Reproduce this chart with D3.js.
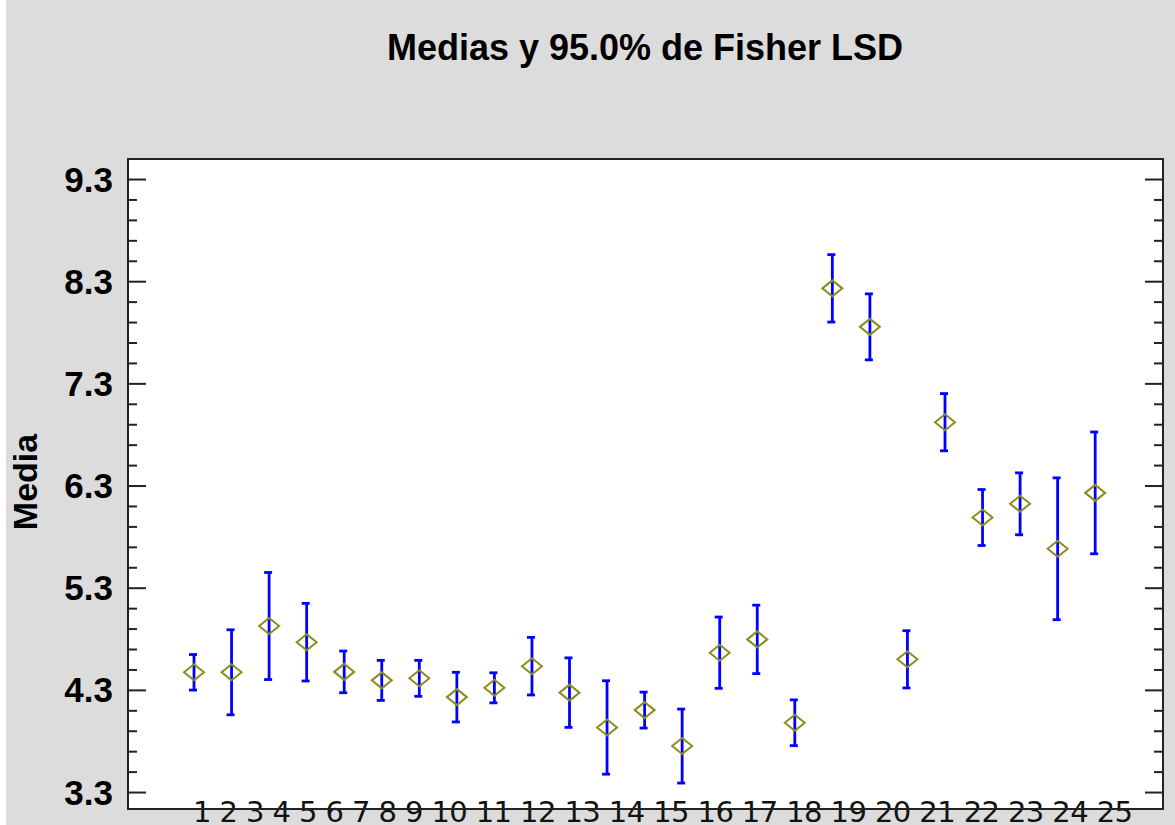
<!DOCTYPE html>
<html>
<head>
<meta charset="utf-8">
<script src="https://cdn.jsdelivr.net/npm/d3@7"></script>
<style>
  html, body { margin: 0; padding: 0; background: #ffffff; }
  svg { display: block; }
</style>
</head>
<body>
<svg id="chart" width="1175" height="825"></svg>
<script>
// Group labels along the x axis
const categories = ["1","2","3","4","5","6","7","8","9","10","11","12","13","14","15","16","17","18","19","20","21","22","23","24","25"];
// Group means
const means = [4.472, 4.472, 4.925, 4.767, 4.476, 4.393, 4.413, 4.229, 4.320, 4.532,
               4.273, 3.932, 4.102, 3.750, 4.664, 4.794, 3.978, 8.230, 7.853, 4.599,
               6.920, 5.987, 6.121, 5.681, 6.228];
// Half-width of each 95% Fisher LSD interval
const halfWidths = [0.174, 0.416, 0.524, 0.380, 0.204, 0.196, 0.176, 0.243, 0.147, 0.282,
                    0.340, 0.457, 0.176, 0.362, 0.349, 0.335, 0.224, 0.330, 0.323, 0.280,
                    0.280, 0.274, 0.303, 0.694, 0.596];
// Y axis tick labels
const yTicks = [3.3, 4.3, 5.3, 6.3, 7.3, 8.3, 9.3];

const titleText = "Medias y 95.0% de Fisher LSD";
const yTitle = "Media";

const W = 1175, H = 825;
const plot = { left: 128, right: 1163, top: 159, bottom: 809 };

const svg = d3.select("#chart");

// Grey frame background with a thin white strip on the left
svg.append("rect").attr("x", 6).attr("y", 0).attr("width", W - 6).attr("height", H).attr("fill", "#dcdcdc");
svg.append("rect")
  .attr("x", plot.left).attr("y", plot.top)
  .attr("width", plot.right - plot.left).attr("height", plot.bottom - plot.top)
  .attr("fill", "#ffffff");

// Scales
const x = d3.scaleLinear().domain([-0.758, 26.806]).range([plot.left, plot.right]);
const y = d3.scaleLinear().domain([3.134, 9.496]).range([plot.bottom, plot.top]);

// Minor ticks every 0.2, major every 1.0
const minorTicks = d3.range(0, 32).map(i => +(3.3 + i * 0.2).toFixed(1)).filter(v => v <= 9.45 && !yTicks.includes(v));

const leftAxis = d3.axisRight(y).tickValues(yTicks).tickSize(18).tickFormat("");
const leftMinor = d3.axisRight(y).tickValues(minorTicks).tickSize(9).tickFormat("");
const rightAxis = d3.axisLeft(y).tickValues(yTicks).tickSize(18).tickFormat("");
const rightMinor = d3.axisLeft(y).tickValues(minorTicks).tickSize(9).tickFormat("");

function styleAxis(g) {
  g.select(".domain").remove();
  g.selectAll(".tick line").attr("stroke", "#222").attr("stroke-width", 2);
}
svg.append("g").attr("transform", `translate(${plot.left},0)`).call(leftAxis).call(styleAxis);
svg.append("g").attr("transform", `translate(${plot.left},0)`).call(leftMinor).call(styleAxis);
svg.append("g").attr("transform", `translate(${plot.right},0)`).call(rightAxis).call(styleAxis);
svg.append("g").attr("transform", `translate(${plot.right},0)`).call(rightMinor).call(styleAxis);

// Y tick labels
svg.append("g").selectAll("text")
  .data(yTicks)
  .join("text")
  .attr("x", 113)
  .attr("y", d => y(d))
  .attr("dy", "0.36em")
  .attr("text-anchor", "end")
  .attr("font-family", "Liberation Sans, Arial, sans-serif")
  .attr("font-weight", "bold")
  .attr("font-size", 35)
  .attr("fill", "#000")
  .text(d => d.toFixed(1));

// Frame lines
svg.append("rect")
  .attr("x", plot.left).attr("y", plot.top)
  .attr("width", plot.right - plot.left).attr("height", plot.bottom - plot.top)
  .attr("fill", "none").attr("stroke", "#222").attr("stroke-width", 2);

// Category labels run together along the bottom edge
svg.append("text")
  .attr("x", 193)
  .attr("y", 822)
  .attr("font-family", "DejaVu Sans, Verdana, sans-serif")
  .attr("font-size", 29)
  .attr("fill", "#111")
  .attr("textLength", 940)
  .attr("lengthAdjust", "spacing")
  .text(categories.join(" "));
// Bottom axis line drawn over the labels
svg.append("line")
  .attr("x1", plot.left).attr("x2", plot.right)
  .attr("y1", plot.bottom).attr("y2", plot.bottom)
  .attr("stroke", "#222").attr("stroke-width", 2);

// LSD interval bars
const groups = categories.map((c, i) => ({ c, i: i + 1, m: means[i], h: halfWidths[i] }));
const bars = svg.append("g").attr("stroke", "#0000ff").attr("stroke-width", 2.8).attr("fill", "none");
bars.selectAll("line.v").data(groups).join("line").attr("class", "v")
  .attr("x1", d => x(d.i)).attr("x2", d => x(d.i))
  .attr("y1", d => y(d.m + d.h)).attr("y2", d => y(d.m - d.h));
bars.selectAll("line.t").data(groups).join("line").attr("class", "t")
  .attr("x1", d => x(d.i) - 5).attr("x2", d => x(d.i) + 3)
  .attr("y1", d => y(d.m + d.h)).attr("y2", d => y(d.m + d.h));
bars.selectAll("line.b").data(groups).join("line").attr("class", "b")
  .attr("x1", d => x(d.i) - 5).attr("x2", d => x(d.i) + 3)
  .attr("y1", d => y(d.m - d.h)).attr("y2", d => y(d.m - d.h));

// Mean markers (diamonds)
const dw = 10, dh = 8;
svg.append("g").selectAll("path").data(groups).join("path")
  .attr("d", d => {
    const cx = x(d.i), cy = y(d.m);
    return `M${cx - dw},${cy} L${cx},${cy - dh} L${cx + dw},${cy} L${cx},${cy + dh} Z`;
  })
  .attr("fill", "none")
  .attr("stroke", "#8c8c1e")
  .attr("stroke-width", 2);

// Title
svg.append("text")
  .attr("x", 645).attr("y", 60)
  .attr("text-anchor", "middle")
  .attr("font-family", "Liberation Sans, Arial, sans-serif")
  .attr("font-weight", "bold")
  .attr("font-size", 36)
  .attr("fill", "#000")
  .text(titleText);

// Y axis title
svg.append("text")
  .attr("transform", "translate(37,482) rotate(-90)")
  .attr("text-anchor", "middle")
  .attr("font-family", "Liberation Sans, Arial, sans-serif")
  .attr("font-weight", "bold")
  .attr("font-size", 34)
  .attr("fill", "#000")
  .text(yTitle);
</script>
</body>
</html>
